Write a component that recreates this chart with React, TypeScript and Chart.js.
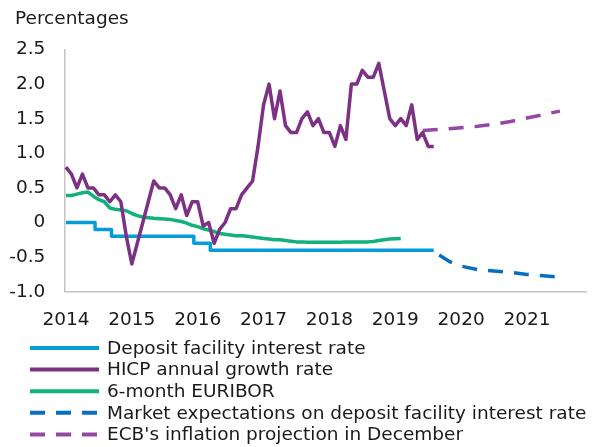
import React, { useEffect, useRef } from 'react';
import { Chart, registerables } from 'chart.js';

Chart.register(...registerables);

// ---- data (x = months since January 2014) ----
const yearLabels = ['2014', '2015', '2016', '2017', '2018', '2019', '2020', '2021'];

const seriesLabels = [
  'Deposit facility interest rate',
  'HICP annual growth rate',
  '6-month EURIBOR',
  'Market expectations on deposit facility interest rate',
  "ECB's inflation projection in December",
];

// HICP annual growth rate, monthly from Jan 2014
const hicpValues = [
  0.8, 0.7, 0.5, 0.7, 0.5, 0.5, 0.4, 0.4, 0.3, 0.4, 0.3, -0.2,
  -0.6, -0.3, 0.0, 0.3, 0.6, 0.5, 0.5, 0.4, 0.2, 0.4, 0.1, 0.3,
  0.3, -0.05, 0.0, -0.3, -0.1, 0.0, 0.2, 0.2, 0.4, 0.5, 0.6, 1.1,
  1.7, 2.0, 1.5, 1.9, 1.4, 1.3, 1.3, 1.5, 1.6, 1.4, 1.5, 1.3,
  1.3, 1.1, 1.4, 1.2, 2.0, 2.0, 2.2, 2.1, 2.1, 2.3, 1.9, 1.5,
  1.4, 1.5, 1.4, 1.7, 1.2, 1.3, 1.1, 1.1,
];

// 6-month EURIBOR, monthly from Jan 2014
const euriborValues = [
  0.39, 0.39, 0.41, 0.43, 0.44, 0.38, 0.33, 0.3, 0.21, 0.19, 0.18, 0.17,
  0.13, 0.1, 0.08, 0.07, 0.06, 0.055, 0.05, 0.045, 0.03, 0.015, -0.01, -0.04,
  -0.06, -0.09, -0.11, -0.13, -0.16, -0.17, -0.18, -0.19, -0.19, -0.2, -0.21, -0.22,
  -0.23, -0.24, -0.25, -0.25, -0.26, -0.27, -0.28, -0.28, -0.285, -0.285, -0.285, -0.285,
  -0.285, -0.285, -0.285, -0.28, -0.28, -0.28, -0.28, -0.28, -0.275, -0.26, -0.25, -0.24,
  -0.235, -0.23,
];

// Deposit facility rate: months at which the rate changed
const depositMonths = [0, 5.3, 8.3, 23.3, 26.3, 67];
const depositRates = [0, -0.1, -0.2, -0.3, -0.4, -0.4];

// Market expectations on the deposit facility rate
const expectMonths = [68, 70, 72, 75, 78, 81, 84, 87, 90];
const expectRates = [-0.47, -0.57, -0.63, -0.68, -0.7, -0.72, -0.75, -0.77, -0.79];

// ECB's inflation projection in December
const projMonths = [65, 67, 69, 72, 75, 78, 81, 84, 87, 90];
const projValues = [1.33, 1.34, 1.35, 1.37, 1.39, 1.42, 1.46, 1.51, 1.56, 1.61];

const yTicks = [-1, -0.5, 0, 0.5, 1, 1.5, 2, 2.5];

// ---- styling ----
const FONT = '"DejaVu Sans", Verdana, sans-serif';
const FONT_SIZE = 18.5;
const TEXT = '#1a1a1a';
const AXIS = '#c4c4c4';
const COLORS = ['#069bd9', '#7c3185', '#12b07b', '#0a6ec0', '#9448a3'];
const DASH = [15, 11];

const monthly = (values: number[]) => values.map((v, i) => ({ x: i, y: v }));
const paired = (xs: number[], ys: number[]) => xs.map((x, i) => ({ x, y: ys[i] }));

const overlayPlugin = {
  id: 'overlay',
  afterDraw(chart: any) {
    const ctx = chart.ctx;
    ctx.save();
    ctx.font = `${FONT_SIZE}px ${FONT}`;
    ctx.fillStyle = TEXT;
    ctx.textAlign = 'left';
    ctx.textBaseline = 'middle';
    ctx.fillText('Percentages', 15, 19);
    const legendOrder = [0, 1, 2, 3, 4];
    legendOrder.forEach((idx, row) => {
      const ds = chart.data.datasets[idx];
      const y = 348 + row * 21.6;
      ctx.beginPath();
      ctx.setLineDash(ds.borderDash || []);
      ctx.lineDashOffset = 0;
      ctx.lineWidth = 4;
      ctx.lineCap = 'butt';
      ctx.strokeStyle = ds.borderColor;
      ctx.moveTo(30, y);
      ctx.lineTo(99, y);
      ctx.stroke();
      ctx.setLineDash([]);
      ctx.fillStyle = TEXT;
      ctx.fillText(ds.label, 107, y + 1);
    });
    ctx.restore();
  },
};

export default function App() {
  const canvasRef = useRef<HTMLCanvasElement | null>(null);

  useEffect(() => {
    document.body.style.margin = '0';
    const canvas = canvasRef.current;
    if (!canvas) return;
    const base = {
      pointRadius: 0,
      pointHoverRadius: 0,
      borderWidth: 3.5,
      tension: 0,
      fill: false,
      borderJoinStyle: 'round' as const,
    };
    const chart = new Chart(canvas, {
      type: 'line',
      data: {
        datasets: [
          {
            ...base,
            label: seriesLabels[0],
            data: paired(depositMonths, depositRates),
            borderColor: COLORS[0],
            backgroundColor: COLORS[0],
            stepped: true,
            order: 3,
          },
          {
            ...base,
            label: seriesLabels[1],
            data: monthly(hicpValues),
            borderColor: COLORS[1],
            backgroundColor: COLORS[1],
            order: 1,
          },
          {
            ...base,
            label: seriesLabels[2],
            data: monthly(euriborValues),
            borderColor: COLORS[2],
            backgroundColor: COLORS[2],
            order: 2,
          },
          {
            ...base,
            label: seriesLabels[3],
            data: paired(expectMonths, expectRates),
            borderColor: COLORS[3],
            backgroundColor: COLORS[3],
            borderDash: DASH,
            order: 4,
          },
          {
            ...base,
            label: seriesLabels[4],
            data: paired(projMonths, projValues),
            borderColor: COLORS[4],
            backgroundColor: COLORS[4],
            borderDash: DASH,
            order: 5,
          },
        ],
      },
      options: {
        responsive: false,
        animation: false,
        events: [],
        layout: { padding: { top: 49.5, left: 10, right: 9, bottom: 119.7 } },
        plugins: {
          legend: { display: false },
          tooltip: { enabled: false },
          title: { display: false },
        },
        scales: {
          x: {
            type: 'linear',
            min: -0.3,
            max: 94.75,
            grid: { display: false, drawTicks: false },
            border: { display: true, color: AXIS, width: 1.5 },
            afterBuildTicks: (scale: any) => {
              scale.ticks = yearLabels.map((_, i) => ({ value: i * 12 }));
            },
            afterFit: (scale: any) => {
              scale.height = 35.6;
            },
            ticks: {
              autoSkip: false,
              maxRotation: 0,
              padding: 17.5,
              color: TEXT,
              font: { family: FONT, size: FONT_SIZE },
              callback: (v: any) => yearLabels[Math.round(Number(v) / 12)] ?? '',
            },
          },
          y: {
            type: 'linear',
            min: -1,
            max: 2.5,
            grid: { display: false, drawTicks: false },
            border: { display: true, color: AXIS, width: 1.5 },
            afterBuildTicks: (scale: any) => {
              scale.ticks = yTicks.map((v) => ({ value: v }));
            },
            afterFit: (scale: any) => {
              scale.width = 54.3;
            },
            ticks: {
              padding: 19,
              color: TEXT,
              font: { family: FONT, size: FONT_SIZE },
              callback: (v: any) => (Number(v) === 0 ? '0' : Number(v).toFixed(1)),
            },
          },
        },
      },
      plugins: [overlayPlugin],
    });
    return () => chart.destroy();
  }, []);

  return (
    <div style={{ width: 595, height: 447 }}>
      <canvas ref={canvasRef} width={595} height={447} style={{ display: 'block' }} />
    </div>
  );
}
